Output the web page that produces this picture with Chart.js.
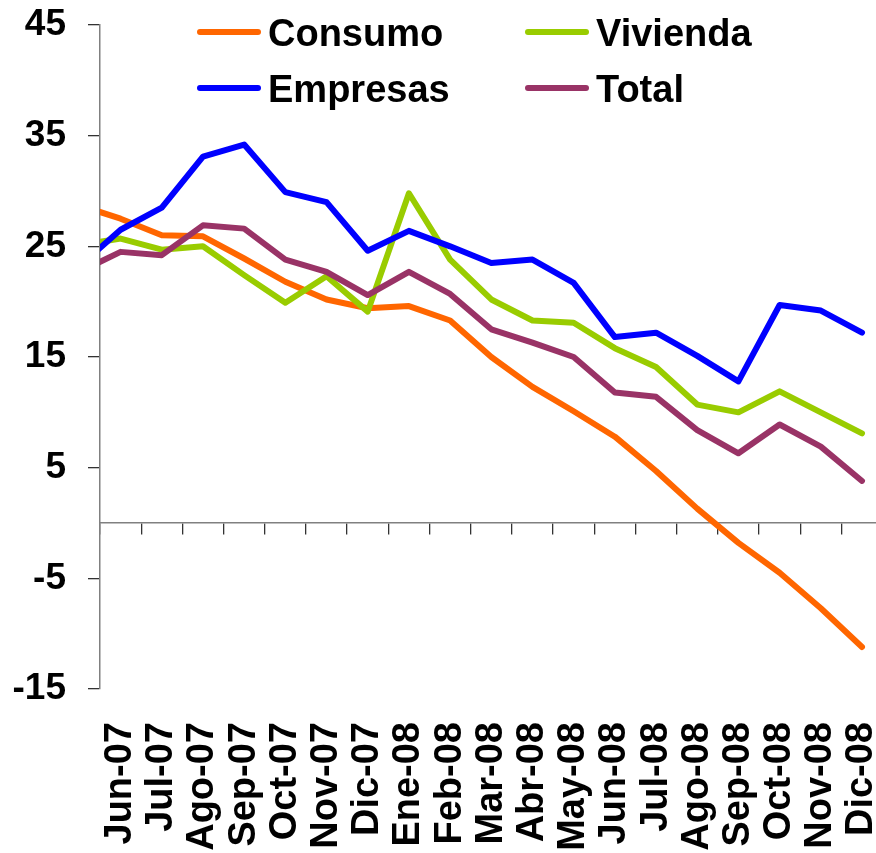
<!DOCTYPE html>
<html><head><meta charset="utf-8">
<script src="https://cdn.jsdelivr.net/npm/chart.js@4.4.0/dist/chart.umd.min.js"></script>
<style>html,body{margin:0;padding:0;background:#fff;overflow:hidden}#wrap{width:876px;height:853px;position:relative}</style>
</head><body><div id="wrap"><canvas id="c"></canvas></div>
<script>
// Categories: the first (May-07) lies just off the left edge; only its segment into Jun-07 shows.
const categories = ['May-07','Jun-07','Jul-07','Ago-07','Sep-07','Oct-07','Nov-07','Dic-07','Ene-08','Feb-08','Mar-08','Abr-08','May-08','Jun-08','Jul-08','Ago-08','Sep-08','Oct-08','Nov-08','Dic-08'];
const seriesNames = ['Consumo','Vivienda','Empresas','Total'];
const seriesColors = ['#FF6600','#99CC00','#0000FF','#993366'];
const consumo  = [28.7, 27.5, 26.0, 25.9, 23.9, 21.8, 20.2, 19.4, 19.6, 18.3, 15.0, 12.3, 10.1, 7.8, 4.7, 1.3, -1.8, -4.5, -7.7, -11.2];
const vivienda = [25.1, 25.7, 24.7, 25.0, 22.4, 19.9, 22.3, 19.1, 29.8, 23.8, 20.2, 18.3, 18.1, 15.8, 14.1, 10.7, 10.0, 11.9, 10.0, 8.1];
const empresas = [23.2, 26.5, 28.5, 33.1, 34.2, 29.9, 29.0, 24.6, 26.4, 25.0, 23.5, 23.8, 21.7, 16.8, 17.2, 15.1, 12.8, 19.7, 19.2, 17.2];
const total    = [22.7, 24.5, 24.2, 26.9, 26.6, 23.8, 22.7, 20.6, 22.7, 20.7, 17.5, 16.3, 15.0, 11.8, 11.4, 8.4, 6.3, 8.9, 6.9, 3.8];
const yMin = -15, yMax = 45, yStep = 10;
const xMin = -0.5, xMax = 18.34;

const seriesValues = [consumo, vivienda, empresas, total];
const FONT = '"Liberation Sans", Arial, sans-serif';

const datasets = seriesValues.map((vals, s) => ({
  label: seriesNames[s],
  data: vals.map((v, i) => ({x: i - 1, y: v})),
  borderColor: seriesColors[s],
  backgroundColor: seriesColors[s],
  borderWidth: 6,
  borderCapStyle: 'round',
  borderJoinStyle: 'round',
  pointRadius: 0,
  tension: 0,
  clip: 0,
  order: seriesValues.length - s,
  xAxisID: 'x',
  yAxisID: 'y'
}));

const legendPlugin = {
  id: 'boxLegend',
  afterDraw(chart) {
    const {ctx, chartArea} = chart;
    ctx.save();
    ctx.font = 'bold 38px ' + FONT;
    ctx.textBaseline = 'alphabetic';
    ctx.textAlign = 'left';
    ctx.fillStyle = '#000';
    chart.data.datasets.forEach((ds, i) => {
      const col = i % 2, row = Math.floor(i / 2);
      const x0 = chartArea.left + 100 + col * 328;
      const y = chartArea.top + 7 + row * 56;
      ctx.strokeStyle = ds.borderColor;
      ctx.lineWidth = 6;
      ctx.lineCap = 'round';
      ctx.beginPath(); ctx.moveTo(x0, y); ctx.lineTo(x0 + 58, y); ctx.stroke();
      ctx.fillText(ds.label, x0 + 68, y + 14);
    });
    ctx.restore();
  }
};

new Chart(document.getElementById('c'), {
  type: 'line',
  data: {datasets},
  plugins: [legendPlugin],
  options: {
    responsive: true,
    maintainAspectRatio: false,
    animation: false,
    devicePixelRatio: 1,
    layout: {padding: {top: 25, left: 0, right: 0, bottom: 0}},
    plugins: {legend: {display: false}, tooltip: {enabled: false}, title: {display: false}},
    events: [],
    scales: {
      x: {
        type: 'linear',
        position: {y: 0},
        min: xMin, max: xMax,
        afterBuildTicks: (s) => { s.ticks = categories.slice(1).map((_, i) => ({value: i - 0.5})); },
        afterFit: (s) => { s.height = 0; s.paddingLeft = 0; s.paddingRight = 0; },
        ticks: {display: false},
        grid: {display: true, drawOnChartArea: false, drawTicks: true, tickLength: 11, color: '#333', lineWidth: 1.3},
        border: {display: true, color: '#808080', width: 1.5}
      },
      xl: {
        type: 'linear',
        position: 'bottom',
        min: xMin, max: xMax,
        afterBuildTicks: (s) => { s.ticks = categories.slice(1).map((_, i) => ({value: i})); },
        afterFit: (s) => { s.height = 164; s.paddingLeft = 0; s.paddingRight = 0; },
        ticks: {
          autoSkip: false, maxRotation: 90, minRotation: 90, padding: 33,
          color: '#000', font: {family: FONT, size: 38, weight: 'bold'},
          callback: (v) => categories[Math.round(v) + 1]
        },
        grid: {display: false, drawTicks: false},
        border: {display: false}
      },
      y: {
        type: 'linear',
        position: 'left',
        min: yMin, max: yMax,
        afterBuildTicks: (s) => { const t = []; for (let v = yMin; v <= yMax; v += yStep) t.push({value: v}); s.ticks = t; },
        afterFit: (s) => { s.width = 100; s.paddingTop = 0; s.paddingBottom = 0; },
        ticks: {color: '#000', padding: 22, font: {family: FONT, size: 37, weight: 'bold'}},
        grid: {display: true, drawOnChartArea: false, drawTicks: true, tickLength: 12, color: '#333', lineWidth: 1.3},
        border: {display: true, color: '#808080', width: 1.5}
      }
    }
  }
});
</script>
</body></html>
